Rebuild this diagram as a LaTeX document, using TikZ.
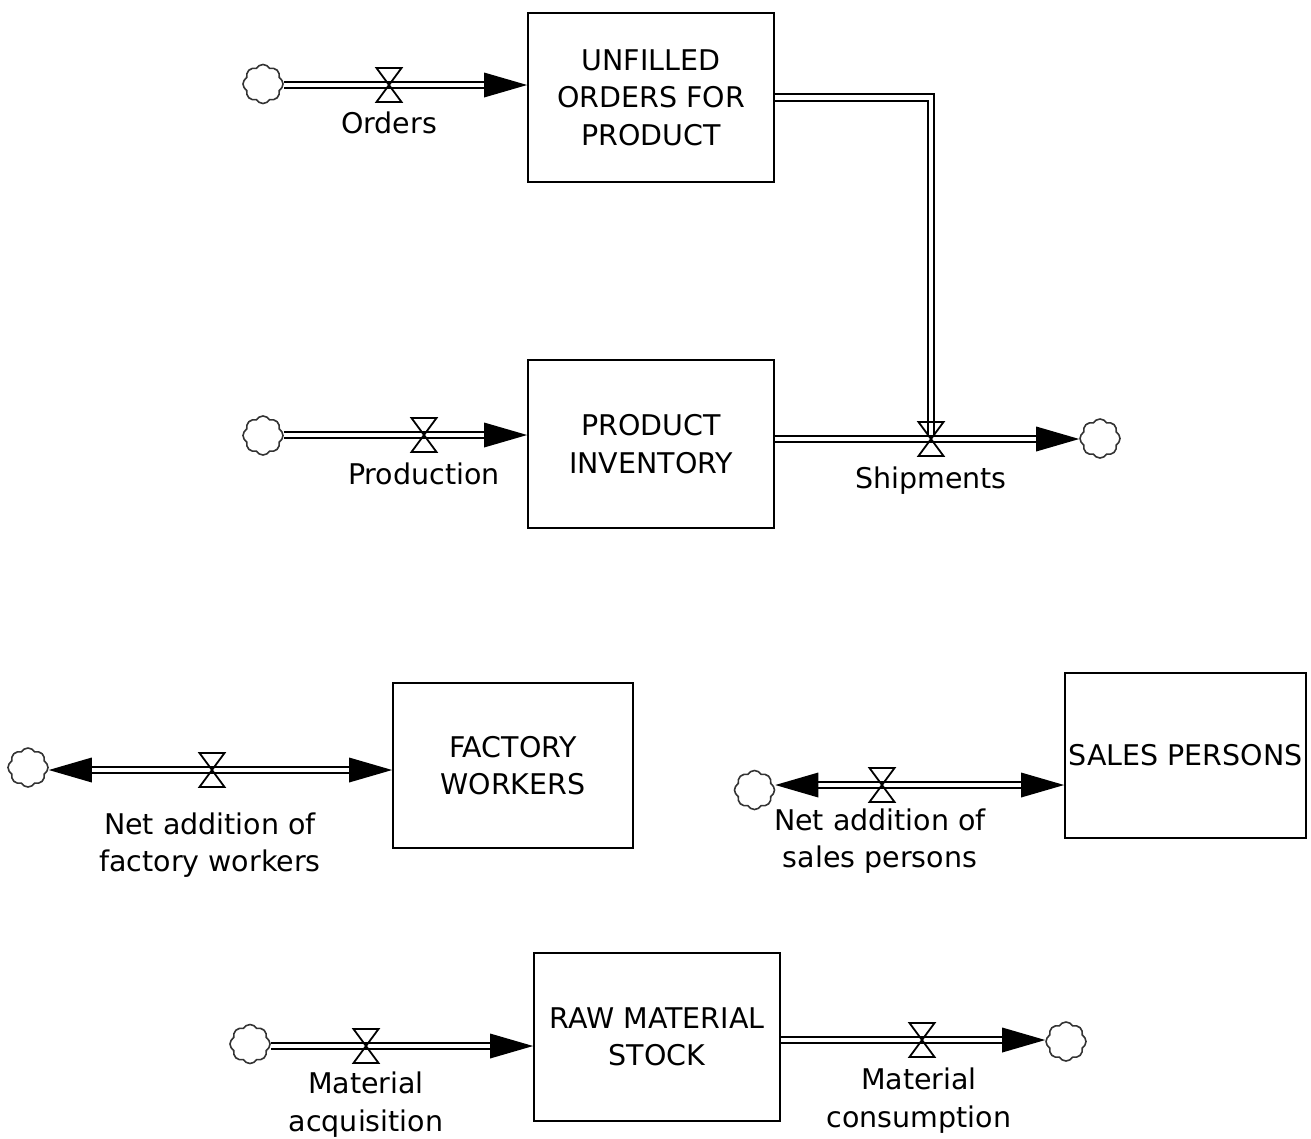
\documentclass[tikz,border=0pt]{standalone}
\usepackage{fontspec}
\setmainfont{DejaVu Sans}
\usetikzlibrary{shapes.symbols,calc}

\tikzset{
  % bow-tie rate valve
  valve/.pic={\draw[line width=1.8] (-12.5,-17) -- (12.5,-17) -- (-12.5,17) -- (12.5,17) -- cycle;},
  % solid arrow head at the end of a flow pipe, tip at the origin
  flowhead/.pic={\fill (0,0) -- (-43,-12.5) -- (-43,12.5) -- cycle;}
}

\begin{document}
\begin{tikzpicture}[x=1pt,y=-1pt,
  every node/.style={font=\fontsize{28.5}{37.5}\selectfont},
  stock/.style={draw, line width=1.8, inner sep=0, align=center},
  src/.style={cloud, cloud puffs=8, cloud puff arc=120, cloud ignores aspect,
    draw=black!80, line width=1.6, minimum width=40, minimum height=39, inner sep=0},
  pipe/.style={draw, line width=1.8, double=white, double distance=4.5},
  lbl/.style={align=center, anchor=base},
]
\useasboundingbox (0,0) rectangle (1311,1138);

% stocks
\node[stock, minimum width=246, minimum height=169] (unfilled) at (651,97.5) {UNFILLED\\ORDERS FOR\\PRODUCT};
\node[stock, minimum width=246, minimum height=168] (inventory) at (651,444) {PRODUCT\\INVENTORY};
\node[stock, minimum width=240, minimum height=165] (factory) at (513,765.5) {FACTORY\\WORKERS};
\node[stock, minimum width=241, minimum height=165] (sales) at (1185.5,755.5) {SALES PERSONS};
\node[stock, minimum width=246, minimum height=168] (raw) at (657,1037) {RAW MATERIAL\\STOCK};

% sources and sinks
\node[src] (c_orders) at (263,84) {};
\node[src] (c_prod) at (263,435.5) {};
\node[src] (c_ship) at (1100,438.5) {};
\node[src] (c_fw) at (28,767.5) {};
\node[src] (c_sp) at (754.5,790) {};
\node[src] (c_acq) at (250,1044) {};
\node[src] (c_cons) at (1066,1041.5) {};

% valve positions
\coordinate (v_orders) at (389,85);
\coordinate (v_prod) at (424,435);
\coordinate (v_ship) at (931,439);
\coordinate (v_fw) at (212,770);
\coordinate (v_sp) at (882,785);
\coordinate (v_acq) at (366,1046);
\coordinate (v_cons) at (922,1040);

% Orders
\draw[pipe] (c_orders.east |- v_orders) -- ($(unfilled.west |- v_orders)+(-40,0)$);
\pic at (unfilled.west |- v_orders) {flowhead};

% Production
\draw[pipe] (c_prod.east |- v_prod) -- ($(inventory.west |- v_prod)+(-40,0)$);
\pic at (inventory.west |- v_prod) {flowhead};

% Shipments: draws down both unfilled orders and inventory
\draw[pipe] (unfilled.east) -| (v_ship);
\draw[pipe] (inventory.east |- v_ship) -- ($(c_ship.west |- v_ship)+(-40,0)$);
\pic at (c_ship.west |- v_ship) {flowhead};

% Net addition of factory workers (bi-directional)
\draw[pipe] ($(c_fw.east |- v_fw)+(40,0)$) -- ($(factory.west |- v_fw)+(-40,0)$);
\pic[xscale=-1] at (c_fw.east |- v_fw) {flowhead};
\pic at (factory.west |- v_fw) {flowhead};

% Net addition of sales persons (bi-directional)
\draw[pipe] ($(c_sp.east |- v_sp)+(40,0)$) -- ($(sales.west |- v_sp)+(-40,0)$);
\pic[xscale=-1] at (c_sp.east |- v_sp) {flowhead};
\pic at (sales.west |- v_sp) {flowhead};

% Material acquisition
\draw[pipe] (c_acq.east |- v_acq) -- ($(raw.west |- v_acq)+(-40,0)$);
\pic at (raw.west |- v_acq) {flowhead};

% Material consumption
\draw[pipe] (raw.east |- v_cons) -- ($(c_cons.west |- v_cons)+(-40,0)$);
\pic at (c_cons.west |- v_cons) {flowhead};

% valves
\foreach \v in {v_orders,v_prod,v_ship,v_fw,v_sp,v_acq,v_cons}
  \pic at (\v) {valve};

% rate labels (base = baseline of the last line)
\node[lbl] (l_orders) at (389,133.5) {Orders};
\node[lbl] (l_prod) at (424,484.5) {Production};
\node[lbl] (l_ship) at (931,488.5) {Shipments};
\node[lbl] (l_fw) at (210,871.5) {Net addition of\\factory workers};
\node[lbl] (l_sp) at (880,867.5) {Net addition of\\sales persons};
\node[lbl] (l_acq) at (366,1131) {Material\\acquisition};
\node[lbl] (l_cons) at (919,1127) {Material\\consumption};
\end{tikzpicture}
\end{document}
